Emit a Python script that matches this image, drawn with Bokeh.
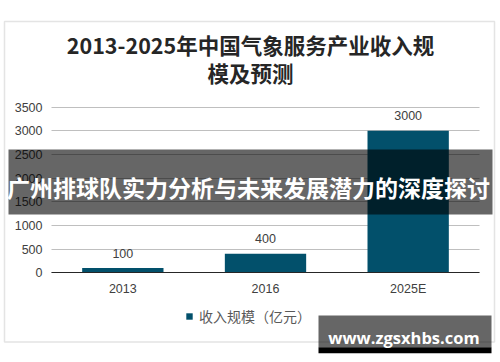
from bokeh.plotting import figure
from bokeh.models import (ColumnDataSource, Range1d, Label, LabelSet, FixedTicker,
                          BoxAnnotation, Legend, LegendItem, LinearAxis)
from bokeh.core.properties import value
from bokeh.embed import file_html
from bokeh.resources import INLINE

# ---- data ----
years = ["2013", "2016", "2025E"]
revenue = [100, 400, 3000]
y_ticks = [0, 500, 1000, 1500, 2000, 2500, 3000, 3500]
title_lines = ["2013-2025年中国气象服务产业收入规", "模及预测"]
series_name = "收入规模（亿元）"
banner_text = "广州排球队实力分析与未来发展潜力的深度探讨"
watermark_text = "www.zgsxhbs.com"

BAR = "#02506b"
CJK = "Noto Sans CJK SC"
LAT = "Liberation Sans"

W, H = 500, 362
# plot-area geometry (pixels inside the canvas)
PL, PR, PT, PB = 51, 479, 106.7, 272.3
n = len(years)
ymax = y_ticks[-1]
cat_px = (PR - PL) / n
x_start = -0.5 - PL / cat_px
x_end = n - 0.5 + (W - PR) / cat_px
y_per_px = ymax / (PB - PT)
y_start = -(H - PB) * y_per_px
y_end = ymax + PT * y_per_px

xs = list(range(n))
src = ColumnDataSource(dict(x=xs, rev=revenue, lab=[str(v) for v in revenue]))

p = figure(width=W, height=H, output_backend="svg", toolbar_location=None, title=None,
           x_range=Range1d(x_start, x_end), y_range=Range1d(y_start, y_end),
           x_axis_location=None, y_axis_location=None, min_border=0)
p.outline_line_color = None
p.background_fill_color = "white"
p.border_fill_color = "white"
p.xgrid.grid_line_color = None
p.ygrid.grid_line_color = None

# outer border
p.add_layout(BoxAnnotation(left=4, right=494, top=H - 21, bottom=H - 341.5,
                           left_units="screen", right_units="screen",
                           top_units="screen", bottom_units="screen",
                           fill_color=None, line_color="#a6a6a6", line_width=1.5,
                           level="underlay"))

# y axis (its long inward ticks are the grid lines)
yax = LinearAxis(fixed_location=-0.5, bounds=(0, ymax), ticker=FixedTicker(ticks=y_ticks))
yax.axis_line_color = None
yax.major_tick_in = PR - PL
yax.major_tick_out = 0
yax.major_tick_line_color = "#bfbfbf"
yax.minor_tick_line_color = None
yax.major_label_standoff = 9
yax.major_label_text_font = LAT
yax.major_label_text_font_size = "12.5px"
yax.major_label_text_color = "#404040"
yax.level = "underlay"
p.add_layout(yax, "left")

r = p.vbar(x="x", top="rev", width=0.57, source=src, fill_color=BAR, line_color=None)

# x axis
xax = LinearAxis(fixed_location=0, bounds=(-0.5, n - 0.5), ticker=FixedTicker(ticks=xs),
                 major_label_overrides={i: y for i, y in enumerate(years)})
xax.axis_line_color = "#262626"
xax.axis_line_width = 1
xax.major_tick_line_color = None
xax.minor_tick_line_color = None
xax.major_tick_in = 0
xax.major_tick_out = 0
xax.major_label_standoff = 9
xax.major_label_text_font = LAT
xax.major_label_text_font_size = "12.5px"
xax.major_label_text_color = "#404040"
p.add_layout(xax, "below")

# data labels
p.add_layout(LabelSet(x="x", y="rev", text="lab", source=src, y_offset=15,
                      text_align="center", text_baseline="middle",
                      text_font=value(LAT), text_font_size=value("12.5px"),
                      text_color="#404040"))

# title
for txt, yy in zip(title_lines, [H - 44, H - 72]):
    p.add_layout(Label(x=W / 2, y=yy, x_units="screen", y_units="screen", text=txt,
                       text_align="center", text_baseline="middle",
                       text_font=CJK, text_font_style="bold", text_font_size="21.5px",
                       text_color="#262626"))

# legend
legend = Legend(items=[LegendItem(label=series_name, renderers=[r])],
                location=(185, H - 319 - 7), orientation="horizontal",
                glyph_width=8, glyph_height=8, label_standoff=6, label_height=14,
                padding=0, margin=0, spacing=0,
                border_line_color=None, background_fill_alpha=0,
                label_text_font=CJK, label_text_font_size="14px",
                label_text_color="#595959")
p.add_layout(legend, "center")

# banner overlay
p.add_layout(BoxAnnotation(left=8, right=492, top=H - 149, bottom=H - 214,
                           left_units="screen", right_units="screen",
                           top_units="screen", bottom_units="screen",
                           fill_color="black", fill_alpha=0.6, line_color=None,
                           level="overlay"))
p.add_layout(Label(x=248, y=H - 186, x_units="screen", y_units="screen", text=banner_text,
                   text_align="center", text_baseline="middle",
                   text_font=CJK, text_font_style="bold", text_font_size="23px",
                   text_color="white", level="overlay"))

# watermark overlay
p.add_layout(BoxAnnotation(left=318, right=491, top=H - 315, bottom=H - 346.7,
                           left_units="screen", right_units="screen",
                           top_units="screen", bottom_units="screen",
                           fill_color="black", fill_alpha=0.6, line_color=None,
                           level="overlay"))
p.add_layout(BoxAnnotation(left=318, right=491, top=H - 346.7, bottom=H - 352.7,
                           left_units="screen", right_units="screen",
                           top_units="screen", bottom_units="screen",
                           fill_color="black", fill_alpha=1.0, line_color=None,
                           level="overlay"))
p.add_layout(Label(x=403.5, y=H - 336.5, x_units="screen", y_units="screen", text=watermark_text,
                   text_align="center", text_baseline="middle",
                   text_font="Open Sans", text_font_style="bold", text_font_size="16.5px",
                   text_color="white", level="overlay"))

open("out.html", "w").write(file_html(p, INLINE))
